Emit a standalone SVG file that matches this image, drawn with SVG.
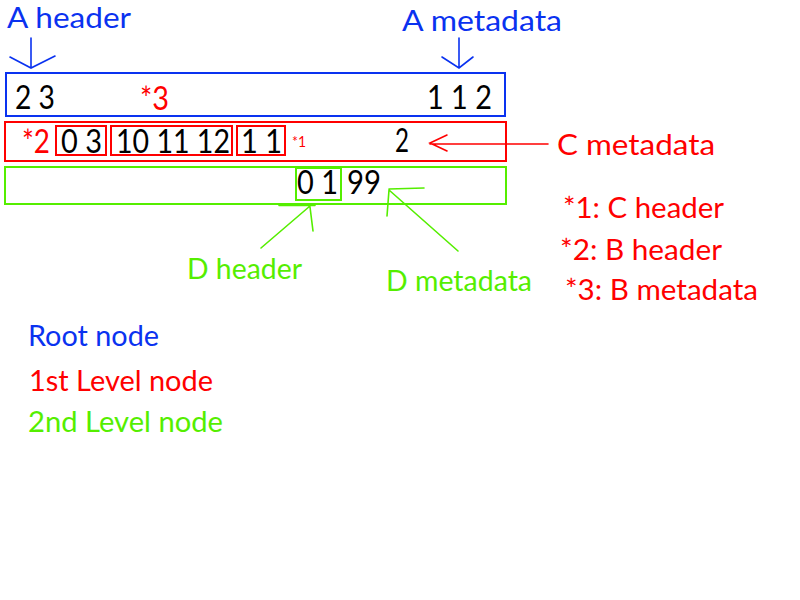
<svg xmlns="http://www.w3.org/2000/svg" width="800" height="600" viewBox="0 0 800 600">
<style>
text{font-family:Lato,"Open Sans","Liberation Sans",sans-serif;}
.b{fill:#0a32f0}.r{fill:#ff0000}.g{fill:#55ee00}.k{fill:#000}
.lg{font-size:29px}.dg{font-size:32px}.sm{font-size:16px}
.box{fill:none;stroke-width:2}
.bs{stroke:#0a32f0}.rs{stroke:#ff0000}.gs{stroke:#55ee00}
.ln{fill:none;stroke-width:1.6;stroke-linecap:round}
</style>
<rect width="800" height="600" fill="#fff"/>
<g id="root-node">
<rect class="box bs" x="6" y="73" width="499" height="43"/>
<text class="dg k" x="15" y="109" textLength="40" lengthAdjust="spacingAndGlyphs">2 3</text>
<text class="dg r" x="140" y="110" textLength="29" lengthAdjust="spacingAndGlyphs">*3</text>
<text class="dg k" x="427" y="109" textLength="65" lengthAdjust="spacingAndGlyphs">1 1 2</text>
</g>
<g id="level1-node">
<rect class="box rs" x="5" y="122" width="501" height="39"/>
<text class="dg r" x="22" y="153" textLength="28" lengthAdjust="spacingAndGlyphs">*2</text>
<text class="sm r" x="292" y="147" textLength="14" lengthAdjust="spacingAndGlyphs">*1</text>
<text class="dg k" x="395" y="152" textLength="14" lengthAdjust="spacingAndGlyphs">2</text>
</g>
<g id="b-header">
<rect class="box rs" x="56" y="126" width="50" height="29"/>
<text class="dg k" x="61" y="153" textLength="41" lengthAdjust="spacingAndGlyphs">0 3</text>
</g>
<g id="b-metadata">
<rect class="box rs" x="111" y="126" width="121" height="29"/>
<text class="dg k" x="116" y="153" textLength="114" lengthAdjust="spacingAndGlyphs">10 11 12</text>
</g>
<g id="c-header">
<rect class="box rs" x="237" y="126" width="48" height="29"/>
<text class="dg k" x="241" y="153" textLength="41" lengthAdjust="spacingAndGlyphs">1 1</text>
</g>
<g id="level2-node">
<rect class="box gs" x="5" y="167" width="501" height="37"/>
<text class="dg k" x="347" y="194" textLength="34" lengthAdjust="spacingAndGlyphs">99</text>
</g>
<g id="d-header">
<rect class="box gs" x="296" y="168" width="45" height="32"/>
<text class="dg k" x="297" y="194" textLength="41" lengthAdjust="spacingAndGlyphs">0 1</text>
</g>
<g id="connectors">
<g stroke="#0a32f0" class="ln">
<path d="M31 38V68M10 57L31 68L55 56"/>
<path d="M459 38V68M442 57L459 68L473 57"/>
</g>
<g stroke="#ff0000" class="ln">
<path d="M548 144H430M447 135L430 143L447 151"/>
</g>
<g stroke="#55ee00" class="ln">
<path d="M261 248L310 206M279 205.5H315M310 207L313 231"/>
<path d="M458 251L389 190M389 189L424 188M389 190L387 216"/>
</g>
</g>
<g id="labels">
<text class="lg b" x="7" y="28" textLength="124" lengthAdjust="spacingAndGlyphs">A header</text>
<text class="lg b" x="402" y="31" textLength="160" lengthAdjust="spacingAndGlyphs">A metadata</text>
<text class="lg r" x="557" y="155" textLength="158" lengthAdjust="spacingAndGlyphs">C metadata</text>
<text class="lg g" x="187" y="279" textLength="115" lengthAdjust="spacingAndGlyphs">D header</text>
<text class="lg g" x="386" y="291" textLength="146" lengthAdjust="spacingAndGlyphs">D metadata</text>
<text class="lg r" x="563" y="218" textLength="161" lengthAdjust="spacingAndGlyphs">*1: C header</text>
<text class="lg r" x="560" y="260" textLength="162" lengthAdjust="spacingAndGlyphs">*2: B header</text>
<text class="lg r" x="565" y="300" textLength="193" lengthAdjust="spacingAndGlyphs">*3: B metadata</text>
<text class="lg b" x="28" y="346" textLength="131" lengthAdjust="spacingAndGlyphs">Root node</text>
<text class="lg r" x="29" y="391" textLength="184" lengthAdjust="spacingAndGlyphs">1st Level node</text>
<text class="lg g" x="28" y="432" textLength="195" lengthAdjust="spacingAndGlyphs">2nd Level node</text>
</g>
</svg>
